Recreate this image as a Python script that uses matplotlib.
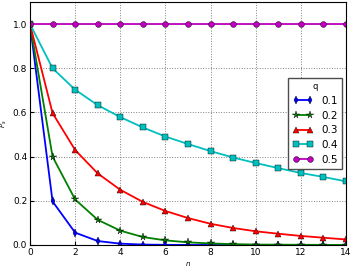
import matplotlib
matplotlib.use('Agg')
import matplotlib.pyplot as plt

# Data
n = list(range(0, 15))
q_labels = ['0.1', '0.2', '0.3', '0.4', '0.5']
ps_01 = [1.0, 0.197, 0.056, 0.018, 0.006, 0.002, 0.0007, 0.0002, 0.0001, 0, 0, 0, 0, 0, 0]
ps_02 = [1.0, 0.40, 0.206, 0.114, 0.065, 0.036, 0.021, 0.012, 0.007, 0.004, 0.002, 0.0015, 0.001, 0.0005, 0.0003]
ps_03 = [1.0, 0.597, 0.43, 0.324, 0.25, 0.195, 0.154, 0.122, 0.096, 0.077, 0.062, 0.051, 0.041, 0.033, 0.025]
ps_04 = [1.0, 0.80, 0.703, 0.633, 0.579, 0.532, 0.491, 0.457, 0.425, 0.396, 0.371, 0.348, 0.326, 0.308, 0.288]
ps_05 = [1.0] * 15

series = [ps_01, ps_02, ps_03, ps_04, ps_05]
colors = ['b', 'g', 'r', 'c', 'm']
markers = ['d', '*', '^', 's', 'o']

fig = plt.figure(figsize=(3.52, 2.68), dpi=100)
ax = fig.add_axes([30 / 352, 23 / 268, 316 / 352, 243 / 268])

for ps, lab, c, m in zip(series, q_labels, colors, markers):
    ax.plot(n, ps, color=c, marker=m, label=lab, linewidth=1.3,
            markersize=4.2 if m != '*' else 5.5, markeredgecolor='k', markeredgewidth=0.3)

ax.set_xlim(0, 14)
ax.set_ylim(0, 1.1)
ax.set_xticks(range(0, 15, 2))
ax.set_yticks([0.0, 0.2, 0.4, 0.6, 0.8, 1.0])
ax.set_yticklabels(['0.0', '0.2', '0.4', '0.6', '0.8', '1.0'])
ax.tick_params(labelsize=6.5, direction='in', length=3, pad=2)
ax.set_xlabel('$n$', fontsize=5, labelpad=2)
ax.set_ylabel('$P_s$', fontsize=5, labelpad=3)
ax.grid(True, linestyle=':', color='0.5', linewidth=0.7)

leg = ax.legend(title='q', loc='center right', fontsize=7.5, title_fontsize=6,
                numpoints=2, fancybox=False, framealpha=1, edgecolor='0.3',
                handlelength=2.0, borderaxespad=0.35, labelspacing=0.45)

fig.savefig('out.png', dpi=100)
